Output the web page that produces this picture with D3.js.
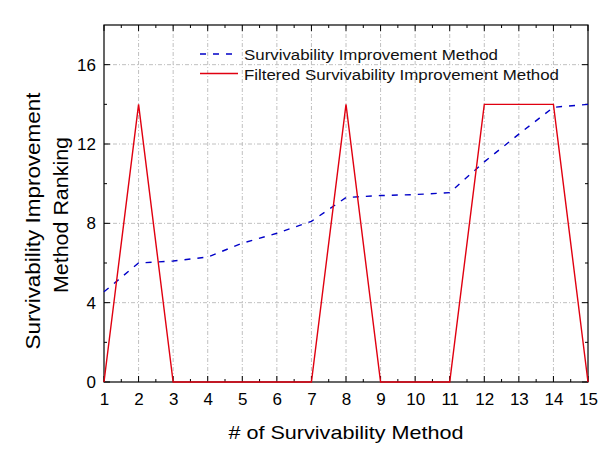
<!DOCTYPE html>
<html><head><meta charset="utf-8">
<script src="https://cdn.jsdelivr.net/npm/d3@7"></script>
<style>body{margin:0;background:#fff}</style>
</head><body>
<svg id="c" width="614" height="462"></svg>
<script>
const methods = [1,2,3,4,5,6,7,8,9,10,11,12,13,14,15];
const improvement = [4.55,6.0,6.1,6.3,7.0,7.5,8.1,9.3,9.4,9.45,9.55,11.1,12.5,13.85,14.0];
const filtered = [0,14,0,0,0,0,0,14,0,0,0,14,14,14,0];
const xTicks = [1,2,3,4,5,6,7,8,9,10,11,12,13,14,15];
const yTicks = [0,4,8,12,16];
const yMinor = [2,6,10,14];
const seriesNames = ["Survivability Improvement Method","Filtered Survivability Improvement Method"];

const svg = d3.select("#c");
const L=104,R=588,T=25,B=382;
const x = d3.scaleLinear().domain([1,15]).range([L,R]);
const y = d3.scaleLinear().domain([0,18]).range([B,T]);
const font = "Liberation Sans, Arial, sans-serif";

// grid
const g = svg.append("g");
g.selectAll(".vg").data(xTicks.slice(1,-1)).join("line")
 .attr("x1",d=>x(d)).attr("x2",d=>x(d)).attr("y1",T).attr("y2",B)
 .attr("stroke","#c0c0c0").attr("stroke-dasharray","4,2,1,2").attr("stroke-width",1);
g.selectAll(".hg").data(yTicks.slice(1)).join("line")
 .attr("x1",L).attr("x2",R).attr("y1",d=>y(d)).attr("y2",d=>y(d))
 .attr("stroke","#c0c0c0").attr("stroke-dasharray","4,2,1,2").attr("stroke-width",1);

// ticks inward on all sides
const xMinorT = d3.range(1.5,15,1);
function tickLines(vals, len, axis){
  vals.forEach(v=>{
    if(axis==="x"){
      svg.append("line").attr("x1",x(v)).attr("x2",x(v)).attr("y1",B).attr("y2",B-len).attr("stroke","#000");
      svg.append("line").attr("x1",x(v)).attr("x2",x(v)).attr("y1",T).attr("y2",T+len).attr("stroke","#000");
    } else {
      svg.append("line").attr("x1",L).attr("x2",L+len).attr("y1",y(v)).attr("y2",y(v)).attr("stroke","#000");
      svg.append("line").attr("x1",R).attr("x2",R-len).attr("y1",y(v)).attr("y2",y(v)).attr("stroke","#000");
    }
  });
}
tickLines(xTicks,6,"x"); tickLines(xMinorT,3,"x");
tickLines(yTicks,6,"y"); tickLines(yMinor,3,"y");

// axes labels via d3 axis (no lines)
const xa = svg.append("g").attr("transform",`translate(0,${B})`)
 .call(d3.axisBottom(x).tickValues(xTicks).tickSize(0).tickPadding(11).tickFormat(d3.format("d")));
xa.select(".domain").remove();
xa.selectAll("text").attr("font-family",font).attr("font-size",17).attr("fill","#000");
const ya = svg.append("g").attr("transform",`translate(${L},0)`)
 .call(d3.axisLeft(y).tickValues(yTicks).tickSize(0).tickPadding(8).tickFormat(d3.format("d")));
ya.select(".domain").remove();
ya.selectAll("text").attr("font-family",font).attr("font-size",17).attr("fill","#000");

// frame
svg.append("rect").attr("x",L).attr("y",T).attr("width",R-L).attr("height",B-T)
 .attr("fill","none").attr("stroke","#000").attr("stroke-width",1.2);

// series
const line = d3.line().x((d,i)=>x(methods[i])).y(d=>y(d));
svg.append("path").datum(improvement).attr("d",line).attr("fill","none")
 .attr("stroke","#0000c8").attr("stroke-width",1.4).attr("stroke-dasharray","6,7");
svg.append("path").datum(filtered).attr("d",line).attr("fill","none")
 .attr("stroke","#e00010").attr("stroke-width",1.4);

// legend
const lg = svg.append("g");
lg.append("line").attr("x1",200).attr("x2",238).attr("y1",54).attr("y2",54)
 .attr("stroke","#0000c8").attr("stroke-width",1.4).attr("stroke-dasharray","6,7");
lg.append("line").attr("x1",200).attr("x2",238).attr("y1",73.5).attr("y2",73.5)
 .attr("stroke","#e00010").attr("stroke-width",1.4);
lg.append("text").attr("x",244).attr("y",59.5).text(seriesNames[0])
 .attr("font-family",font).attr("font-size",15.5).attr("fill","#111")
 .attr("textLength",254).attr("lengthAdjust","spacingAndGlyphs");
lg.append("text").attr("x",244).attr("y",79.5).text(seriesNames[1])
 .attr("font-family",font).attr("font-size",15.5).attr("fill","#111")
 .attr("textLength",315).attr("lengthAdjust","spacingAndGlyphs");

// axis titles
svg.append("text").attr("x",346).attr("y",439).attr("text-anchor","middle")
 .attr("font-family",font).attr("font-size",18.5).text("# of Survivability Method")
 .attr("textLength",235).attr("lengthAdjust","spacingAndGlyphs");
svg.append("text").attr("transform",`translate(40,221) rotate(-90)`)
 .attr("text-anchor","middle").attr("font-family",font).attr("font-size",20.5)
 .text("Survivability Improvement").attr("textLength",257).attr("lengthAdjust","spacingAndGlyphs");
svg.append("text").attr("transform",`translate(68,215) rotate(-90)`)
 .attr("text-anchor","middle").attr("font-family",font).attr("font-size",20.5)
 .text("Method Ranking").attr("textLength",156).attr("lengthAdjust","spacingAndGlyphs");
</script>
</body></html>
